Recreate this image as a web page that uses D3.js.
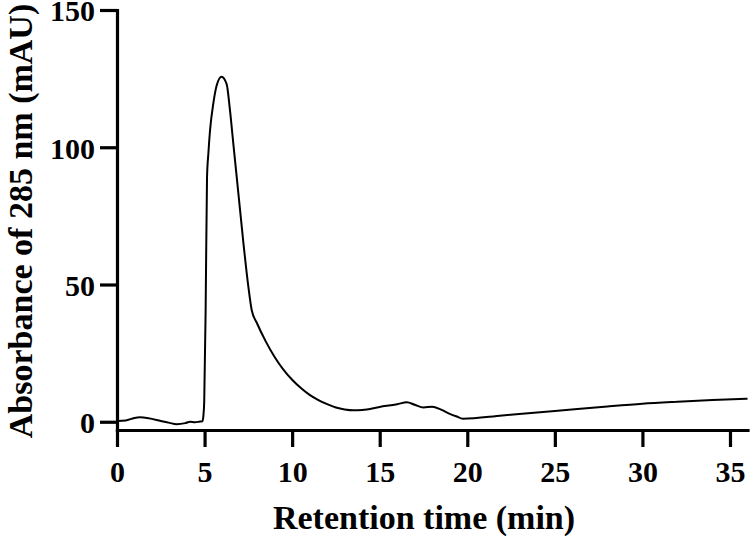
<!DOCTYPE html>
<html>
<head>
<meta charset="utf-8">
<script src="https://cdn.jsdelivr.net/npm/d3@7"></script>
<style>
  html, body { margin: 0; padding: 0; background: #fff; }
  svg { display: block; }
  .axis text { font-family: "Liberation Serif", "Times New Roman", serif; font-weight: bold; font-size: 30px; fill: #000; }
  .title { font-family: "Liberation Serif", "Times New Roman", serif; font-weight: bold; font-size: 34px; fill: #000; }
</style>
</head>
<body>
<svg id="chart" width="750" height="540"></svg>
<script>
// Retention time (min)
const times = [
  0, 0.5, 1.0, 1.3, 1.8, 2.5, 3.0, 3.4, 3.9, 4.17, 4.45, 4.74, 4.88,
  4.93, 4.98, 5.06, 5.14, 5.22, 5.31, 5.5, 5.69, 5.97, 6.26, 6.45, 6.64,
  6.93, 7.22, 7.5, 7.69, 8.0, 8.5, 9.0, 9.5, 10.0, 10.5, 11.0, 11.5, 12.0,
  12.5, 13.0, 13.5, 14.0, 15.0, 16.0, 16.55, 17.0, 17.5, 18.0, 18.5, 19.0,
  19.4, 19.75, 22, 25, 28, 30, 32, 34, 36
];
// Absorbance at 285 nm (mAU)
const absorbance = [
  0.3, 0.5, 1.4, 1.6, 1.3, 0.3, -0.4, -0.9, -0.5, 0.0, -0.2, 0.1, 0.2,
  2.0, 7.3, 40, 89, 98, 106, 116, 122.5, 125.7, 123, 113.5, 101.4,
  83.2, 65, 49.2, 40.7, 35.8, 29.2, 23.6, 19.0, 15.3, 12.3, 9.8, 7.9, 6.4,
  5.2, 4.5, 4.2, 4.3, 5.4, 6.4, 7.1, 6.2, 5.2, 5.5, 4.4, 2.9,
  1.9, 1.1, 2.3, 3.9, 5.6, 6.6, 7.3, 7.9, 8.4
];
const xTicks = [0, 5, 10, 15, 20, 25, 30, 35];
const yTicks = [0, 50, 100, 150];
const xLabel = "Retention time (min)";
const yLabel = "Absorbance of 285 nm (mAU)";

const data = times.map((t, i) => ({ t, v: absorbance[i] }));

const svg = d3.select("#chart");
const x = d3.scaleLinear().domain([0, 36]).range([117, 747.5]);
const y = d3.scaleLinear().domain([-3, 150]).range([430, 10]);

svg.append("g").attr("class", "axis")
  .attr("transform", "translate(0,430)")
  .call(d3.axisBottom(x).tickValues(xTicks).tickFormat(d3.format("d"))
        .tickSize(17).tickSizeOuter(0).tickPadding(14));
svg.append("g").attr("class", "axis y")
  .attr("transform", "translate(117,0)")
  .call(d3.axisLeft(y).tickValues(yTicks).tickFormat(d3.format("d"))
        .tickSize(17).tickSizeOuter(0).tickPadding(5));
svg.selectAll(".axis.y .tick text").attr("dy", "0.36em");

svg.selectAll(".axis path.domain").attr("stroke", "#000").attr("stroke-width", 3.2).attr("stroke-linecap", "square");
svg.selectAll(".axis .tick line").attr("stroke", "#000").attr("stroke-width", 3.2);

const line = d3.line().x(d => x(d.t)).y(d => y(d.v)).curve(d3.curveMonotoneX);
svg.append("path").datum(data)
  .attr("d", line)
  .attr("fill", "none")
  .attr("stroke", "#000")
  .attr("stroke-width", 2)
  .attr("stroke-linejoin", "round");

svg.append("text").attr("class", "title")
  .attr("x", 424).attr("y", 529)
  .attr("text-anchor", "middle")
  .text(xLabel);

svg.append("text").attr("class", "title")
  .attr("transform", "translate(32,221) rotate(-90)")
  .attr("text-anchor", "middle")
  .text(yLabel);
</script>
</body>
</html>
